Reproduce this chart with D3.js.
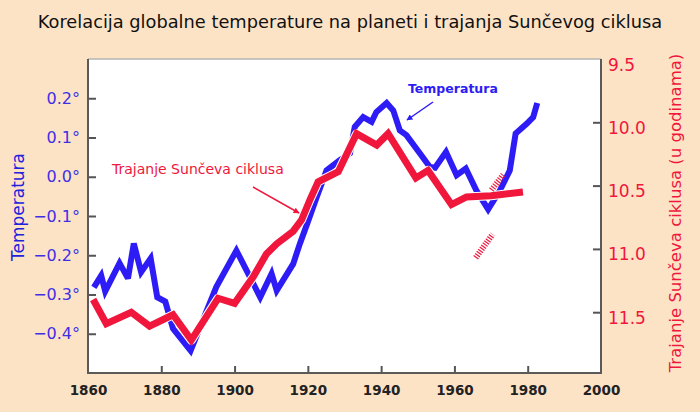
<!DOCTYPE html>
<html>
<head>
<meta charset="utf-8">
<script src="https://cdn.jsdelivr.net/npm/d3@7"></script>
<style>
  html, body { margin: 0; padding: 0; background: #fde3c6; }
  svg { display: block; }
</style>
</head>
<body>
<svg id="chart" width="700" height="412"></svg>
<script>
// ---------- DATA ----------
const titleText = "Korelacija globalne temperature na planeti i trajanja Sunčevog ciklusa";
const leftAxisTitle = "Temperatura";
const rightAxisTitle = "Trajanje Sunčeva ciklusa (u godinama)";

const xTicks = [1860, 1880, 1900, 1920, 1940, 1960, 1980, 2000];
const tempTicks = [0.2, 0.1, 0.0, -0.1, -0.2, -0.3, -0.4];
const cycleTicks = [9.5, 10.0, 10.5, 11.0, 11.5];

// Global temperature anomaly (°C)
const tempYears = [1861.6, 1863.6, 1864.7, 1868.6, 1870.9, 1872.5, 1874.5, 1877.1, 1878.9, 1881.1,
  1883.2, 1888.0, 1895.0, 1900.5, 1907.0, 1910.1, 1911.5, 1916.0, 1917.8, 1919.8, 1922.4, 1925.1,
  1928.7, 1931.5, 1932.8, 1935.1, 1937.4, 1938.7, 1941.5, 1943.3, 1945.1, 1946.9, 1950.6, 1953.3,
  1954.7, 1957.7, 1960.6, 1963.1, 1966.0, 1969.2, 1972.4, 1975.1, 1976.7, 1979.7, 1981.5, 1982.6];
const tempValues = [-0.282, -0.252, -0.292, -0.220, -0.259, -0.170, -0.243, -0.208, -0.307, -0.318,
  -0.387, -0.443, -0.281, -0.188, -0.307, -0.247, -0.290, -0.222, -0.171, -0.120, -0.052, 0.016,
  0.042, 0.060, 0.127, 0.152, 0.140, 0.165, 0.188, 0.169, 0.118, 0.106, 0.059, 0.025,
  0.023, 0.063, 0.004, 0.021, -0.035, -0.083, -0.035, 0.016, 0.110, 0.135, 0.152, 0.188];

// Solar cycle length (years)
const cycleYears = [1861.4, 1865.0, 1871.8, 1876.8, 1883.2, 1888.2, 1895.5, 1900.0, 1905.1, 1908.7,
  1911.5, 1916.0, 1918.3, 1920.6, 1922.8, 1928.3, 1933.3, 1938.8, 1941.9, 1949.5, 1952.8,
  1959.2, 1963.3, 1970.0, 1978.7];
const cycleValues = [11.40, 11.59, 11.50, 11.61, 11.52, 11.72, 11.39, 11.43, 11.22, 11.04,
  10.96, 10.86, 10.77, 10.61, 10.47, 10.39, 10.09, 10.18, 10.09, 10.44, 10.38,
  10.65, 10.59, 10.58, 10.55];

// Hatched projection marks (year, cycle length)
const hatchA = [[1970.1, 10.535], [1973.3, 10.416]];
const hatchB = [[1965.8, 11.07], [1970.4, 10.885]];

// Annotation labels
const tempLabel = "Temperatura";
const cycleLabel = "Trajanje Sunčeva ciklusa";

// ---------- LAYOUT ----------
const pL = 88, pR = 601, pT = 59, pB = 373;
const blue = "#2d1cf6", blueText = "#3f2fe6", red = "#f0163c";
const font = "DejaVu Sans, Verdana, sans-serif";

const svg = d3.select("#chart");
svg.append("rect").attr("width", 700).attr("height", 412).attr("fill", "#fde3c6");
svg.append("rect").attr("x", pL).attr("y", pT).attr("width", pR - pL).attr("height", pB - pT).attr("fill", "#ffffff");

const x = d3.scaleLinear().domain([1860, 2000]).range([pL, pR]);
const yT = d3.scaleLinear().domain([-0.5, 0.3]).range([pB, pT]);
const yC = d3.scaleLinear().domain([9.5, 12.0]).range([pT, 375.5]);

// Title
svg.append("text").attr("x", 350).attr("y", 28).attr("text-anchor", "middle")
  .attr("font-family", font).attr("font-size", 17.8).attr("fill", "#111").text(titleText);

// Axis titles
svg.append("text").attr("transform", "translate(24,207) rotate(-90)").attr("text-anchor", "middle")
  .attr("font-family", font).attr("font-size", 17).attr("fill", "#2222dd").text(leftAxisTitle);
svg.append("text").attr("transform", "translate(681,213) rotate(-90)").attr("text-anchor", "middle")
  .attr("font-family", font).attr("font-size", 16.5).attr("fill", red).text(rightAxisTitle);

// Axes
const xAxis = svg.append("g").attr("transform", `translate(0,${pB})`)
  .call(d3.axisBottom(x).tickValues(xTicks).tickFormat(d3.format("d")).tickSize(-7).tickPadding(12));
const lAxis = svg.append("g").attr("transform", `translate(${pL},0)`)
  .call(d3.axisLeft(yT).tickValues(tempTicks).tickFormat(d => d3.format(".1f")(d) + "°").tickSize(-8).tickPadding(8));
const rAxis = svg.append("g").attr("transform", `translate(${pR},0)`)
  .call(d3.axisRight(yC).tickValues(cycleTicks).tickFormat(d3.format(".1f")).tickSize(-8).tickPadding(7));

[xAxis, lAxis, rAxis].forEach(g => {
  g.select(".domain").remove();
  g.selectAll(".tick line").attr("stroke", "#555").attr("stroke-width", 2);
});
xAxis.selectAll("text").attr("font-family", font).attr("font-size", 13.5).attr("font-weight", "bold").attr("fill", "#222");
lAxis.selectAll("text").attr("font-family", font).attr("font-size", 16).attr("fill", blueText);
rAxis.selectAll("text").attr("font-family", font).attr("font-size", 17).attr("fill", red).attr("dy", "0.65em");
rAxis.selectAll(".tick").filter(d => d === 9.5).select("line").remove();
xAxis.selectAll(".tick").filter(d => d === 1860 || d === 2000).select("line").remove();

// Frame
svg.append("line").attr("x1", pL).attr("x2", pR).attr("y1", pT).attr("y2", pT).attr("stroke", "#b5b5b5").attr("stroke-width", 1.5);
svg.append("path").attr("d", `M${pL},${pT}V${pB}H${pR}V${pT}`).attr("fill", "none").attr("stroke", "#5a5a5a").attr("stroke-width", 2);

// Lines
const tempData = tempYears.map((yr, i) => [yr, tempValues[i]]);
const cycleData = cycleYears.map((yr, i) => [yr, cycleValues[i]]);
const tLine = d3.line().x(d => x(d[0])).y(d => yT(d[1]));
const cLine = d3.line().x(d => x(d[0])).y(d => yC(d[1]));

svg.append("path").attr("d", tLine(tempData)).attr("fill", "none").attr("stroke", blue)
  .attr("stroke-width", 6).attr("stroke-linejoin", "miter").attr("stroke-miterlimit", 3);
svg.append("path").attr("d", cLine(cycleData)).attr("fill", "none").attr("stroke", "#ffffff")
  .attr("stroke-width", 9).attr("stroke-linejoin", "round");
svg.append("path").attr("d", cLine(cycleData)).attr("fill", "none").attr("stroke", red)
  .attr("stroke-width", 7).attr("stroke-linejoin", "miter").attr("stroke-miterlimit", 3);

// Hatched marks
[hatchA, hatchB].forEach(h => {
  svg.append("path").attr("d", cLine(h)).attr("fill", "none").attr("stroke", red)
    .attr("stroke-width", 6).attr("stroke-dasharray", "1.2 1.4");
});

// Annotations with arrows
const defs = svg.append("defs");
function marker(id, color) {
  defs.append("marker").attr("id", id).attr("viewBox", "0 0 10 10").attr("refX", 9).attr("refY", 5)
    .attr("markerWidth", 8).attr("markerHeight", 6).attr("orient", "auto").attr("markerUnits", "userSpaceOnUse")
    .append("path").attr("d", "M0,0L10,5L0,10Z").attr("fill", color);
}
marker("arrBlue", blue);
marker("arrRed", red);

svg.append("text").attr("x", 408).attr("y", 93).attr("font-family", font).attr("font-size", 12.5)
  .attr("font-weight", "bold").attr("fill", blue).text(tempLabel);
svg.append("line").attr("x1", 433).attr("y1", 102).attr("x2", 407).attr("y2", 120)
  .attr("stroke", blue).attr("stroke-width", 1.5).attr("marker-end", "url(#arrBlue)");

svg.append("text").attr("x", 112).attr("y", 174).attr("font-family", font).attr("font-size", 14)
  .attr("fill", red).text(cycleLabel);
svg.append("line").attr("x1", 253).attr("y1", 187).attr("x2", 299).attr("y2", 213)
  .attr("stroke", red).attr("stroke-width", 1.5).attr("marker-end", "url(#arrRed)");
</script>
</body>
</html>
